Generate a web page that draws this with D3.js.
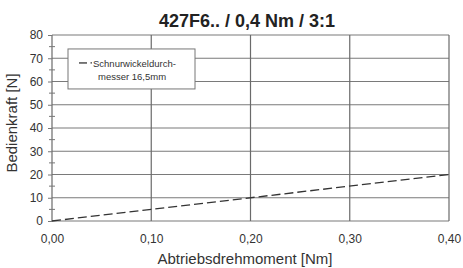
<!DOCTYPE html>
<html>
<head>
<meta charset="utf-8">
<script src="https://cdn.jsdelivr.net/npm/d3@7"></script>
<style>
  body { margin: 0; background: #fff; }
  text { font-family: "Liberation Sans", Arial, sans-serif; }
</style>
</head>
<body>
<div id="graph"></div>
<script>
// Daten
var moment = [0.0, 0.4];          // Nm
var kraft = [0, 20];              // N
var xTicks = [0, 0.1, 0.2, 0.3, 0.4];
var yTicks = [0, 10, 20, 30, 40, 50, 60, 70, 80];
var yMinor = [5, 15, 25, 35, 45, 55, 65, 75];
var legendLines = ["Schnurwickeldurch-", "messer 16,5mm"];

var W = 463, H = 268;
var margin = {top: 35, right: 14, bottom: 47, left: 52};
var width = W - margin.left - margin.right;
var height = H - margin.top - margin.bottom;

var svg = d3.select("#graph").append("svg")
  .attr("width", W).attr("height", H);

var g = svg.append("g")
  .attr("transform", "translate(" + margin.left + "," + margin.top + ")");

var x = d3.scaleLinear([0, 0.4], [0, width]);
var y = d3.scaleLinear([0, 80], [height, 0]);
var fmt = function(d) { return d3.format(".2f")(d).replace(".", ","); };

// Gitter
g.selectAll(".hg").data(yTicks).enter().append("line")
  .attr("x1", 0).attr("x2", width)
  .attr("y1", d => y(d)).attr("y2", d => y(d))
  .attr("stroke", "#7a7a7a").attr("stroke-width", 1.2);
g.selectAll(".vg").data(xTicks).enter().append("line")
  .attr("x1", d => x(d)).attr("x2", d => x(d))
  .attr("y1", 0).attr("y2", height)
  .attr("stroke", "#6a6a6a").attr("stroke-width", 1.2);

// Nebenstriche
g.selectAll(".mt").data(yMinor).enter().append("line")
  .attr("x1", -3).attr("x2", 3)
  .attr("y1", d => y(d)).attr("y2", d => y(d))
  .attr("stroke", "#777").attr("stroke-width", 1);

// Achsen
var yAxis = g.append("g").call(d3.axisLeft(y).tickValues(yTicks).tickSize(4).tickPadding(5));
var xAxis = g.append("g").attr("transform", "translate(0," + height + ")")
  .call(d3.axisBottom(x).tickValues(xTicks).tickFormat(fmt).tickSize(0).tickPadding(13));
[yAxis, xAxis].forEach(function(a) {
  a.select(".domain").remove();
  a.selectAll("line").attr("stroke", "#777");
  a.selectAll("text").attr("font-size", 12).attr("fill", "#333")
    .style("font-family", "'Liberation Sans', Arial, sans-serif");
});

// Linie
var data = moment.map((m, i) => ({x: m, y: kraft[i]}));
var line = d3.line().x(d => x(d.x)).y(d => y(d.y));
g.append("path").datum(data)
  .attr("fill", "none").attr("stroke", "#333")
  .attr("stroke-width", 1.3).attr("stroke-dasharray", "9,4")
  .attr("d", line);

// Legende
var lg = g.append("g").attr("transform", "translate(16," + y(74) + ")");
lg.append("rect").attr("width", 127).attr("height", 40)
  .attr("fill", "#fff").attr("stroke", "#777").attr("stroke-width", 1);
lg.append("line").attr("x1", 11).attr("x2", 19).attr("y1", 14).attr("y2", 14)
  .attr("stroke", "#333").attr("stroke-width", 1.3);
lg.append("line").attr("x1", 22.5).attr("x2", 24).attr("y1", 14).attr("y2", 14)
  .attr("stroke", "#333").attr("stroke-width", 1.3);
lg.selectAll(".lt").data(legendLines).enter().append("text")
  .attr("x", (d, i) => i === 0 ? 25 : 30).attr("y", (d, i) => 18 + i * 13)
  .attr("font-size", 9.5).attr("fill", "#333").text(d => d);

// Titel und Achsentitel
svg.append("text").attr("x", 247).attr("y", 27).attr("text-anchor", "middle")
  .attr("font-size", 18).attr("font-weight", "bold").attr("fill", "#222")
  .text("427F6.. / 0,4 Nm / 3:1");
svg.append("text").attr("x", 245).attr("y", 264).attr("text-anchor", "middle")
  .attr("font-size", 15).attr("fill", "#333").text("Abtriebsdrehmoment [Nm]");
svg.append("text").attr("transform", "translate(17," + (margin.top + height / 2 - 5) + ") rotate(-90)")
  .attr("text-anchor", "middle").attr("font-size", 15).attr("fill", "#333")
  .text("Bedienkraft [N]");
</script>
</body>
</html>
